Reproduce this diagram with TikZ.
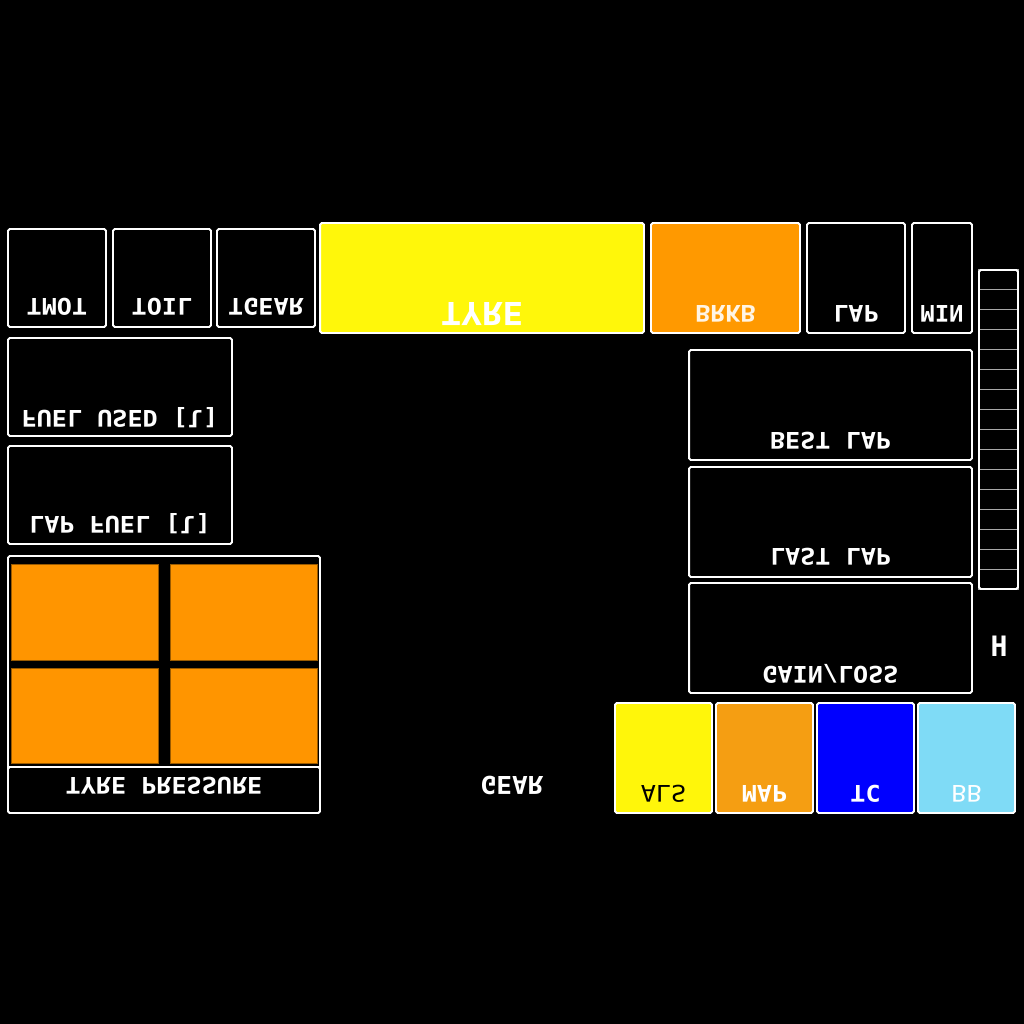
\documentclass[tikz,border=0pt]{standalone}
\usepackage{fontspec}
\usepackage{graphicx}
\usetikzlibrary{positioning}
\newfontfamily\dashfont{DejaVu Sans Mono}
% flipped dashboard text
\newcommand{\mirtext}[2][1.1]{\scalebox{#1}[-1]{#2}}
\definecolor{tyreyellow}{HTML}{FFF70A}
\definecolor{brakeorange}{HTML}{FF9900}
\definecolor{tpress}{HTML}{FF9500}
\definecolor{tpressedge}{HTML}{9A5A00}
\definecolor{alsyellow}{HTML}{FFF60A}
\definecolor{maporange}{HTML}{F59E12}
\definecolor{tcblue}{HTML}{0000FF}
\definecolor{bbblue}{HTML}{7FDBF6}
\definecolor{bargray}{HTML}{A8A8A8}
\tikzset{
    panel/.style={
           rectangle,
           rounded corners=1pt,
           draw=white, line width=1.1pt,
           fill=black,
           inner sep=0pt,
           },
    tyrecell/.style={
           rectangle,
           fill=tpress,
           draw=tpressedge, line width=0.4pt,
           minimum width=2.94cm,
           minimum height=1.91cm,
           inner sep=0pt,
           },
    barcell/.style={
           rectangle,
           draw=bargray, line width=0.6pt,
           minimum width=0.78cm,
           minimum height=0.3988cm,
           inner sep=0pt,
           },
    lbl/.style={
           text=white,
           inner sep=0pt,
           font=\dashfont\bfseries\fontsize{13}{13}\selectfont,
           },
}
\begin{document}
\begin{tikzpicture}[x=0.02cm, y=-0.02cm]
	\fill[black] (0,0) rectangle (1024,1024);
	\useasboundingbox (0,0) rectangle (1024,1024);

	% top row
	\node[panel, minimum width=1.96cm, minimum height=1.96cm] (tmot) at (57,278) {};
	\node[panel, minimum width=1.96cm, minimum height=1.96cm] (toil) at (162,278) {};
	\node[panel, minimum width=1.96cm, minimum height=1.96cm] (tgear) at (266,278) {};
	\node[panel, fill=tyreyellow, minimum width=6.48cm, minimum height=2.2cm] (tyre) at (482,278) {};
	\node[panel, fill=brakeorange, minimum width=2.98cm, minimum height=2.2cm] (brkb) at (725.5,278) {};
	\node[panel, minimum width=1.96cm, minimum height=2.2cm] (lap) at (856,278) {};
	\node[panel, minimum width=1.2cm, minimum height=2.2cm] (min) at (942,278) {};

	\node[lbl] (tmotlbl) at ([yshift=0.42cm]tmot.south) {\mirtext{TMOT}};
	\node[lbl] (toillbl) at ([yshift=0.42cm]toil.south) {\mirtext{TOIL}};
	\node[lbl] (tgearlbl) at ([yshift=0.42cm]tgear.south) {\mirtext{TGEAR}};
	\node[lbl, font=\dashfont\bfseries\fontsize{18}{18}\selectfont] (tyrelbl) at ([yshift=0.39cm]tyre.south) {\mirtext[1.08]{TYRE}};
	\node[lbl, text=white!90!brakeorange] (brkblbl) at ([yshift=0.40cm]brkb.south) {\mirtext{BRKB}};
	\node[lbl] (laplbl) at ([yshift=0.40cm]lap.south) {\mirtext{LAP}};
	\node[lbl] (minlbl) at ([yshift=0.40cm]min.south) {\mirtext[1.05]{MIN}};

	% shift light bar
	\foreach \i in {0,...,15}
		\node[barcell] (bar\i) at (998.5,{279.97+19.94*\i}) {};
	\node[panel, fill=none, minimum width=0.78cm, minimum height=6.38cm] (ladder) at (998.5,429.5) {};

	% fuel
	\node[panel, minimum width=4.48cm, minimum height=1.96cm] (fuelused) at (120,387) {};
	\node[panel, minimum width=4.48cm, minimum height=1.96cm] (lapfuel) at (120,495) {};
	\node[lbl] (fuelusedlbl) at ([yshift=0.38cm]fuelused.south) {\mirtext{FUEL USED [l]}};
	\node[lbl] (lapfuellbl) at ([yshift=0.42cm]lapfuel.south) {\mirtext{LAP FUEL [l]}};

	% tyre pressure
	\node[panel, minimum width=6.24cm, minimum height=5.14cm] (tpres) at (164,684.5) {};
	\node[panel, minimum width=6.24cm, minimum height=0.92cm] (tpreslbox) at (164,790) {};
	\node[tyrecell] (fl) at (84.5,612.5) {};
	\node[tyrecell] (fr) at (243.5,612.5) {};
	\node[tyrecell] (rl) at (84.5,716) {};
	\node[tyrecell] (rr) at (243.5,716) {};
	\node[lbl] (tpreslbl) at ([yshift=0.08cm]tpreslbox.center) {\mirtext{TYRE PRESSURE}};

	% lap times
	\node[panel, minimum width=5.66cm, minimum height=2.2cm] (bestlap) at (830.5,405) {};
	\node[panel, minimum width=5.66cm, minimum height=2.2cm] (lastlap) at (830.5,522) {};
	\node[panel, minimum width=5.66cm, minimum height=2.2cm] (gainloss) at (830.5,638) {};
	\node[lbl] (bestlaplbl) at ([yshift=0.40cm]bestlap.south) {\mirtext{BEST LAP}};
	\node[lbl] (lastlaplbl) at ([yshift=0.42cm]lastlap.south) {\mirtext{LAST LAP}};
	\node[lbl] (gainlosslbl) at ([yshift=0.40cm]gainloss.south) {\mirtext{GAIN/LOSS}};

	\node[lbl, font=\dashfont\bfseries\fontsize{16}{16}\selectfont] (hlbl) at (999,646) {H};
	\node[lbl, font=\dashfont\bfseries\fontsize{14}{14}\selectfont] (gear) at (512,785) {\mirtext[1.06]{GEAR}};

	% switches
	\node[panel, fill=alsyellow, minimum width=1.94cm, minimum height=2.2cm] (als) at (663.5,758) {};
	\node[panel, fill=maporange, minimum width=1.94cm, minimum height=2.2cm] (map) at (764.5,758) {};
	\node[panel, fill=tcblue, minimum width=1.94cm, minimum height=2.2cm] (tc) at (865.5,758) {};
	\node[panel, fill=bbblue, minimum width=1.94cm, minimum height=2.2cm] (bb) at (966.5,758) {};
	\node[lbl, text=black, font=\dashfont\fontsize{13}{13}\selectfont] (alslbl) at ([yshift=0.40cm]als.south) {\mirtext{ALS}};
	\node[lbl] (maplbl) at ([yshift=0.40cm]map.south) {\mirtext{MAP}};
	\node[lbl] (tclbl) at ([yshift=0.40cm]tc.south) {\mirtext{TC}};
	\node[lbl, font=\dashfont\fontsize{13}{13}\selectfont] (bblbl) at ([yshift=0.40cm]bb.south) {\mirtext{BB}};
\end{tikzpicture}
\end{document}
